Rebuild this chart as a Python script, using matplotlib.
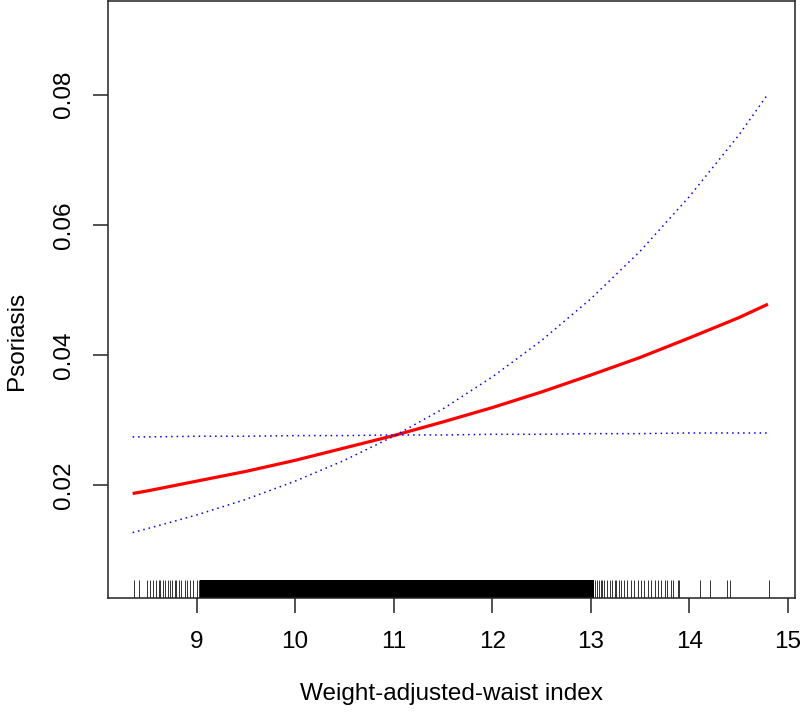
import matplotlib
matplotlib.use("Agg")
import matplotlib.pyplot as plt

plt.rcParams['font.family'] = ['Liberation Sans', 'DejaVu Sans']

# fitted curve and confidence limits
wwi = [8.35, 8.5, 9, 9.5, 10, 10.5, 11, 11.5, 12, 12.5, 13, 13.5, 14, 14.5, 14.8]
fit = [0.0187, 0.0191, 0.0206, 0.0221, 0.0238, 0.0257, 0.0276, 0.0297,
       0.0319, 0.0343, 0.0369, 0.0396, 0.0426, 0.0457, 0.0478]
upper = [0.0127, 0.0133, 0.0154, 0.0178, 0.0206, 0.0238, 0.0275, 0.0317,
         0.0366, 0.0422, 0.0486, 0.0559, 0.0643, 0.0737, 0.0801]
lower = [0.0274, 0.0274, 0.0275, 0.0275, 0.0276, 0.0276, 0.0277, 0.0277,
         0.0278, 0.0278, 0.0279, 0.0279, 0.0280, 0.0280, 0.0280]

# rug: sparse observations at both tails, and the solid dense block between them
rug_left = [8.36, 8.41, 8.50, 8.53, 8.56, 8.59, 8.62, 8.63, 8.66, 8.68, 8.71,
            8.73, 8.75, 8.78, 8.79, 8.82, 8.84, 8.88, 8.90, 8.93, 8.96, 9.00, 9.02]
rug_right = [13.04, 13.06, 13.08, 13.10, 13.12, 13.14, 13.17, 13.20, 13.22, 13.25,
             13.26, 13.29, 13.31, 13.34, 13.37, 13.41, 13.44, 13.48, 13.51, 13.54,
             13.58, 13.61, 13.65, 13.68, 13.71, 13.75, 13.78, 13.82, 13.84, 13.885,
             13.90, 14.115, 14.21, 14.38, 14.41, 14.81]
rug_dense = (9.03, 13.03)

x_ticks = [9, 10, 11, 12, 13, 14, 15]
y_ticks = [0.02, 0.04, 0.06, 0.08]

fig = plt.figure(figsize=(8, 7.13), dpi=100)
ax = fig.add_axes([0.135, 0.1613, 0.8588, 0.8373])

ax.plot(wwi, fit, color='red', lw=2.3, solid_capstyle='butt')
ax.plot(wwi, upper, color='blue', lw=1.1, linestyle=(0, (1, 2.6)))
ax.plot(wwi, lower, color='blue', lw=1.1, linestyle=(0, (1, 2.6)))

ax.vlines(rug_left + rug_right, 0, 0.03, transform=ax.get_xaxis_transform(),
          color='#333333', lw=0.7)
ax.axvspan(rug_dense[0], rug_dense[1], ymin=0, ymax=0.03, color='black', lw=0)

ax.set_xlim(8.10, 15.075)
ax.set_ylim(0.00264, 0.0944)
ax.set_xticks(x_ticks)
ax.set_xticklabels([str(t) for t in x_ticks])
ax.set_yticks(y_ticks)
ax.set_yticklabels(['0.02', '0.04', '0.06', '0.08'], rotation=90, va='center')

ax.tick_params(axis='both', length=10.5, width=1.1, labelsize=17.5, pad=13, color='#222222')
for s in ax.spines.values():
    s.set_linewidth(1.1)
    s.set_color('#222222')

ax.set_xlabel('Weight-adjusted-waist index', fontsize=17.5, labelpad=22)
ax.set_ylabel('Psoriasis', fontsize=17.5)
ax.yaxis.set_label_coords(-0.117, 0.43)

fig.savefig('out.png', dpi=100)
